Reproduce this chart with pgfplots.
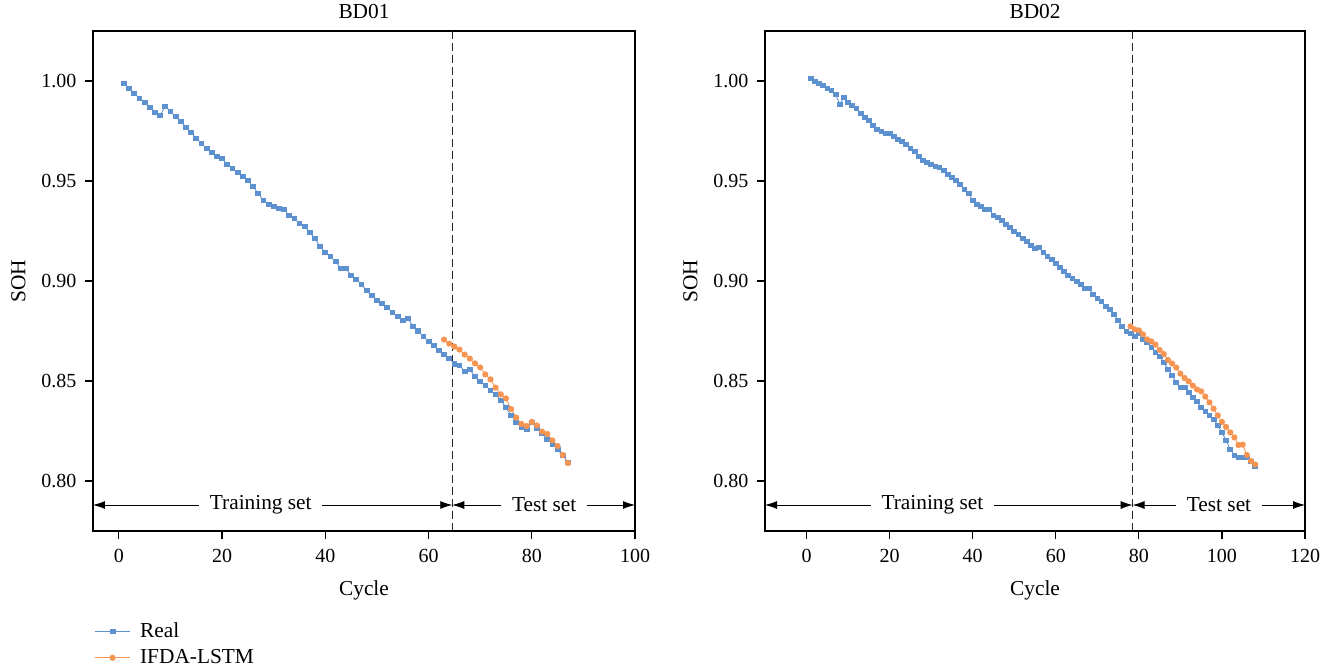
\documentclass[border=0pt]{standalone}
\usepackage{pgfplots}
\pgfplotsset{compat=1.18}
\usepackage{pgfplotstable}
\usepackage{fontspec}
\setmainfont{Liberation Serif}
\usetikzlibrary{arrows.meta}
\definecolor{realc}{RGB}{94,145,208}
\definecolor{predc}{RGB}{246,148,82}

\pgfplotstableread{
x y
1 0.9988
2 0.9963
3 0.9938
4 0.9913
5 0.9893
6 0.9868
7 0.9843
8 0.9828
9 0.9873
10 0.9848
11 0.9823
12 0.9798
13 0.9768
14 0.9743
15 0.9713
16 0.9688
17 0.9663
18 0.9643
19 0.9623
20 0.9613
21 0.9583
22 0.9563
23 0.9543
24 0.9523
25 0.9503
26 0.9473
27 0.9438
28 0.9403
29 0.9383
30 0.9373
31 0.9363
32 0.9358
33 0.9328
34 0.9313
35 0.9288
36 0.9273
37 0.9243
38 0.9213
39 0.9173
40 0.9143
41 0.9123
42 0.9098
43 0.9063
44 0.9063
45 0.9028
46 0.9008
47 0.8983
48 0.8953
49 0.8928
50 0.8903
51 0.8888
52 0.8868
53 0.8843
54 0.8823
55 0.8803
56 0.8813
57 0.8773
58 0.8750
59 0.8723
60 0.8698
61 0.8678
62 0.8653
63 0.8633
64 0.8613
65 0.8585
66 0.8578
67 0.8548
68 0.8558
69 0.8523
70 0.8498
71 0.8478
72 0.8453
73 0.8433
74 0.8403
75 0.8368
76 0.8328
77 0.8293
78 0.8268
79 0.8258
80 0.8293
81 0.8263
82 0.8238
83 0.8208
84 0.8183
85 0.8158
86 0.8128
87 0.8093
}\bdonereal

\pgfplotstableread{
x y
63 0.8707
64 0.8687
65 0.8672
66 0.8657
67 0.8632
68 0.8612
69 0.8588
70 0.8568
71 0.8533
72 0.8508
73 0.8467
74 0.8433
75 0.8413
76 0.8360
77 0.8317
78 0.8285
79 0.8275
80 0.8295
81 0.8278
82 0.8247
83 0.8235
84 0.8203
85 0.8175
86 0.8130
87 0.8090
}\bdonepred

\pgfplotstableread{
x y
1 1.0013
2 0.9998
3 0.9988
4 0.9978
5 0.9963
6 0.9953
7 0.9933
8 0.9883
9 0.9918
10 0.9893
11 0.9878
12 0.9863
13 0.9838
14 0.9818
15 0.9803
16 0.9778
17 0.9758
18 0.9748
19 0.9738
20 0.9738
21 0.9723
22 0.9708
23 0.9698
24 0.9683
25 0.9663
26 0.9648
27 0.9623
28 0.9603
29 0.9593
30 0.9583
31 0.9573
32 0.9568
33 0.9553
34 0.9533
35 0.9518
36 0.9503
37 0.9483
38 0.9458
39 0.9438
40 0.9403
41 0.9383
42 0.9373
43 0.9358
44 0.9358
45 0.9328
46 0.9318
47 0.9303
48 0.9283
49 0.9268
50 0.9248
51 0.9233
52 0.9213
53 0.9198
54 0.9178
55 0.9163
56 0.9168
57 0.9143
58 0.9123
59 0.9108
60 0.9088
61 0.9068
62 0.9048
63 0.9028
64 0.9013
65 0.8998
66 0.8983
67 0.8963
68 0.8963
69 0.8933
70 0.8913
71 0.8898
72 0.8873
73 0.8858
74 0.8833
75 0.8803
76 0.8773
77 0.8748
78 0.8738
79 0.8723
80 0.8738
81 0.8708
82 0.8693
83 0.8668
84 0.8643
85 0.8623
86 0.8593
87 0.8558
88 0.8528
89 0.8493
90 0.8468
91 0.8468
92 0.8443
93 0.8418
94 0.8398
95 0.8368
96 0.8348
97 0.8328
98 0.8308
99 0.8278
100 0.8243
101 0.8203
102 0.8158
103 0.8128
104 0.8118
105 0.8118
106 0.8118
107 0.8098
108 0.8073
}\bdtworeal

\pgfplotstableread{
x y
78 0.8773
79 0.8758
80 0.8753
81 0.8733
82 0.8708
83 0.8698
84 0.8682
85 0.8655
86 0.8635
87 0.8605
88 0.8587
89 0.8567
90 0.8537
91 0.8515
92 0.8498
93 0.8477
94 0.8458
95 0.8448
96 0.8422
97 0.8393
98 0.8362
99 0.8328
100 0.8295
101 0.8270
102 0.8243
103 0.8218
104 0.8180
105 0.8182
106 0.8130
107 0.8100
108 0.8082
}\bdtwopred

\tikzset{
  realst/.style={color=realc, line width=0.6pt, mark=square*, mark size=1.8pt, mark options={solid, fill=realc, draw=realc}},
  predst/.style={color=predc, line width=0.6pt, mark=*, mark size=2pt, mark options={solid, fill=predc, draw=predc}},
  myarr/.style={{Latex[length=9pt,width=6pt]}-{Latex[length=9pt,width=6pt]}, line width=0.6pt},
  mysplit/.style={black!85, dash pattern=on 6pt off 3pt, line width=1.1pt},
  mylab/.style={fill=white, inner sep=2pt, inner xsep=8pt, font=\fontsize{16}{19}\selectfont},
}

\pgfplotsset{
  myaxis/.style={
    scale only axis,
    height=375pt,
    ymin=0.775, ymax=1.025,
    ytick={0.80,0.85,0.90,0.95,1.00},
    y tick label style={/pgf/number format/fixed,/pgf/number format/fixed zerofill,/pgf/number format/precision=2, xshift=-3pt},
    x tick label style={yshift=-4pt},
    /pgf/number format/assume math mode=true,
    tick align=outside, tick pos=left,
    major tick length=6pt,
    axis line style={line width=1pt},
    every tick/.style={black, line width=0.9pt},
    font=\fontsize{16}{19}\selectfont,
    tick label style={font=\fontsize{15}{18}\selectfont},
    label style={font=\fontsize{16}{19}\selectfont},
    title style={font=\fontsize{16}{19}\selectfont, yshift=-0.5pt},
    xlabel={Cycle}, ylabel={SOH},
    xlabel style={yshift=-6.5pt},
    ylabel style={yshift=5pt},
    clip=false,
  },
}

\begin{document}
\begin{tikzpicture}
\path[use as bounding box] (-69.75pt,-105pt) rectangle (933pt,398.25pt);

\begin{axis}[myaxis, at={(0pt,0pt)}, anchor=south west,
  width=406.5pt, xmin=-5, xmax=100, xtick={0,20,40,60,80,100},
  title={BD01},
  legend style={draw=none, fill=none, at={(axis description cs:0.002,-0.178)}, anchor=north west,
    font=\fontsize{16}{19}\selectfont, row sep=3.5pt, inner sep=0pt,
    /tikz/every odd column/.append style={column sep=5pt}},
  legend cell align=left,
  legend image code/.code={\draw[mark repeat=2,mark phase=2,#1] plot coordinates {(0cm,0cm) (0.47cm,0cm) (0.94cm,0cm)};},
]
\addplot[realst] table[x=x,y=y] {\bdonereal};
\addlegendentry{Real}
\addplot[predst] table[x=x,y=y] {\bdonepred};
\addlegendentry{IFDA-LSTM}
\draw[mysplit] (axis cs:64.6,0.775) -- (axis cs:64.6,1.025);
\draw[myarr] (axis cs:-5,0.788) -- (axis cs:64.6,0.788);
\draw[myarr] (axis cs:64.6,0.788) -- (axis cs:100,0.788);
\node[mylab] at (axis cs:27.5,0.788) {Training set};
\node[mylab] at (axis cs:82.4,0.788) {Test set};
\end{axis}

\begin{axis}[myaxis, at={(504pt,0pt)}, anchor=south west,
  width=405pt, xmin=-10, xmax=120, xtick={0,20,40,60,80,100,120},
  title={BD02},
]
\addplot[realst] table[x=x,y=y] {\bdtworeal};
\addplot[predst] table[x=x,y=y] {\bdtwopred};
\draw[mysplit] (axis cs:78.5,0.775) -- (axis cs:78.5,1.025);
\draw[myarr] (axis cs:-10,0.788) -- (axis cs:78.5,0.788);
\draw[myarr] (axis cs:78.5,0.788) -- (axis cs:120,0.788);
\node[mylab] at (axis cs:30.3,0.788) {Training set};
\node[mylab] at (axis cs:99.3,0.788) {Test set};
\end{axis}
\end{tikzpicture}
\end{document}
